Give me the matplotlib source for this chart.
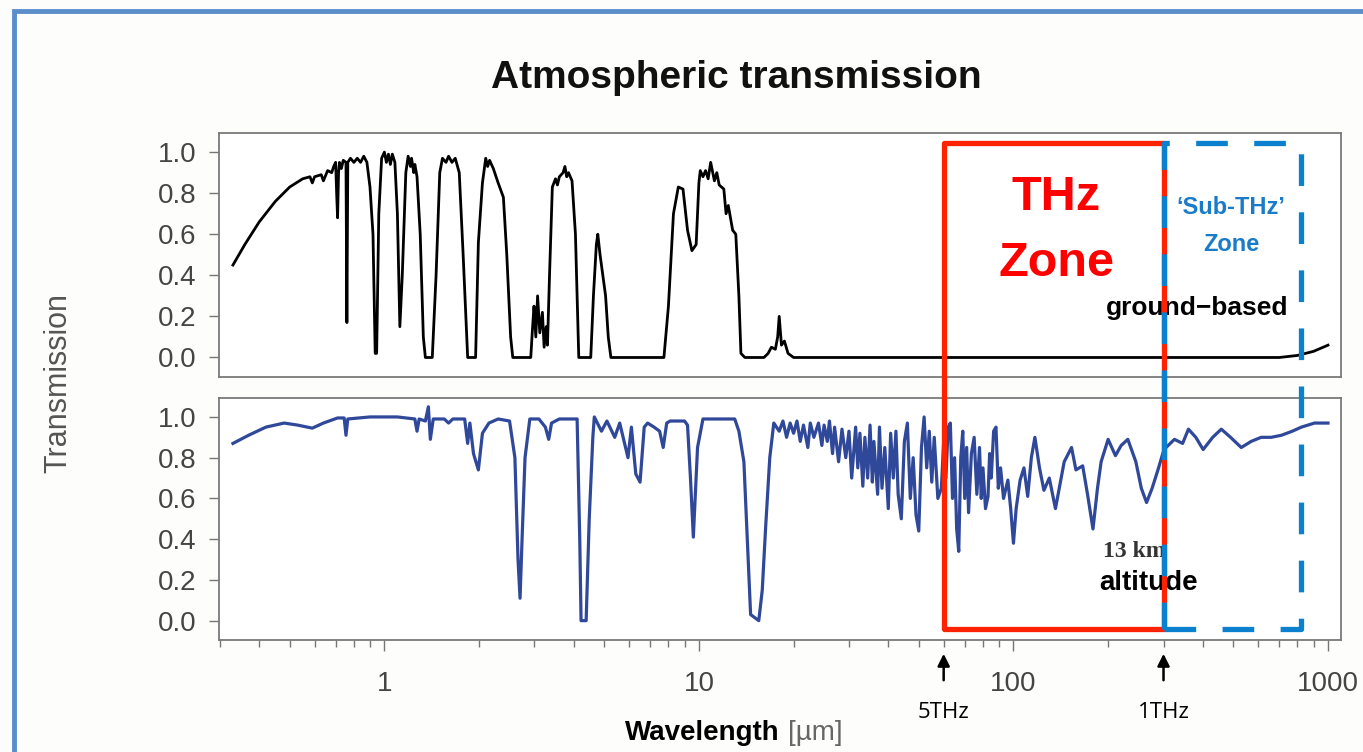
import matplotlib
matplotlib.use("Agg")
import matplotlib.pyplot as plt
from matplotlib.patches import Rectangle
from matplotlib.ticker import FixedLocator, LogLocator, NullFormatter
from matplotlib.transforms import blended_transform_factory

plt.rcParams['font.family'] = ['Liberation Sans', 'DejaVu Sans']

# --- ground-based transmission, (wavelength um, transmission) ---
ground_pts = [
    (0.33, 0.45), (0.36, 0.55), (0.40, 0.66), (0.45, 0.76), (0.50, 0.83), (0.55, 0.87),
    (0.58, 0.88), (0.59, 0.85), (0.60, 0.88), (0.63, 0.89), (0.64, 0.86), (0.66, 0.91),
    (0.68, 0.90), (0.69, 0.93), (0.70, 0.95), (0.705, 0.80), (0.71, 0.68), (0.715, 0.90),
    (0.72, 0.95), (0.73, 0.92), (0.74, 0.96), (0.755, 0.95), (0.76, 0.17), (0.765, 0.95),
    (0.78, 0.97), (0.80, 0.95), (0.82, 0.97), (0.84, 0.95), (0.86, 0.98), (0.88, 0.95),
    (0.90, 0.83), (0.92, 0.60), (0.935, 0.02), (0.945, 0.02), (0.96, 0.70), (0.98, 0.97),
    (1.00, 1.00), (1.015, 0.95), (1.03, 0.99), (1.045, 0.94), (1.06, 0.99), (1.08, 0.95),
    (1.10, 0.70), (1.12, 0.15), (1.14, 0.40), (1.17, 0.90), (1.19, 0.98), (1.21, 0.93),
    (1.22, 0.97), (1.24, 0.90), (1.25, 0.94), (1.27, 0.88), (1.30, 0.60), (1.33, 0.10),
    (1.35, 0.0), (1.42, 0.0), (1.46, 0.40), (1.50, 0.90), (1.53, 0.97), (1.57, 0.95),
    (1.60, 0.98), (1.64, 0.95), (1.68, 0.97), (1.73, 0.90), (1.78, 0.50), (1.84, 0.0),
    (1.95, 0.0), (1.99, 0.56), (2.05, 0.85), (2.10, 0.97), (2.13, 0.93), (2.16, 0.96),
    (2.22, 0.92), (2.30, 0.85), (2.39, 0.78), (2.45, 0.50), (2.52, 0.10), (2.56, 0.0),
    (2.92, 0.0), (2.96, 0.15), (2.99, 0.25), (3.03, 0.10), (3.07, 0.30), (3.12, 0.12),
    (3.18, 0.22), (3.22, 0.05), (3.27, 0.15), (3.30, 0.06), (3.35, 0.40), (3.42, 0.83),
    (3.50, 0.87), (3.55, 0.84), (3.60, 0.88), (3.70, 0.90), (3.75, 0.93), (3.80, 0.88),
    (3.85, 0.90), (3.95, 0.86), (4.05, 0.60), (4.15, 0.0), (4.53, 0.0), (4.62, 0.30),
    (4.72, 0.55), (4.77, 0.60), (4.85, 0.50), (4.95, 0.40), (5.05, 0.30), (5.15, 0.10),
    (5.25, 0.0), (7.74, 0.0), (8.0, 0.25), (8.3, 0.70), (8.6, 0.83), (8.9, 0.82),
    (9.2, 0.62), (9.5, 0.52), (9.8, 0.55), (10.0, 0.85), (10.1, 0.91), (10.3, 0.88),
    (10.5, 0.91), (10.7, 0.87), (10.9, 0.95), (11.2, 0.86), (11.4, 0.90), (11.6, 0.84),
    (12.0, 0.82), (12.2, 0.70), (12.4, 0.74), (12.8, 0.62), (13.1, 0.60), (13.4, 0.30),
    (13.6, 0.02), (14.0, 0.0), (16.1, 0.0), (16.6, 0.02), (17.0, 0.05), (17.5, 0.04),
    (17.8, 0.10), (18.0, 0.20), (18.3, 0.06), (18.7, 0.08), (19.2, 0.02), (20.0, 0.0),
    (700, 0.0), (800, 0.01), (900, 0.03), (1000, 0.06)]

# --- 13 km altitude transmission ---
altitude_pts = [
    (0.33, 0.87), (0.37, 0.91), (0.42, 0.95), (0.48, 0.97), (0.53, 0.96), (0.59, 0.945),
    (0.64, 0.97), (0.71, 0.995), (0.745, 0.995), (0.755, 0.91), (0.765, 0.99), (0.9, 1.0),
    (1.1, 1.0), (1.25, 0.99), (1.27, 0.93), (1.29, 0.99), (1.35, 0.98), (1.38, 1.05),
    (1.40, 0.89), (1.43, 0.99), (1.55, 0.99), (1.6, 0.97), (1.65, 0.99), (1.8, 0.99),
    (1.84, 0.87), (1.87, 0.97), (1.92, 0.82), (1.99, 0.74), (2.05, 0.92), (2.15, 0.97),
    (2.3, 0.99), (2.5, 0.98), (2.6, 0.80), (2.66, 0.30), (2.7, 0.11), (2.74, 0.40),
    (2.8, 0.80), (2.9, 0.99), (3.1, 0.99), (3.25, 0.95), (3.33, 0.89), (3.4, 0.97),
    (3.6, 0.99), (4.1, 0.99), (4.18, 0.4), (4.22, 0.0), (4.38, 0.0), (4.48, 0.5),
    (4.6, 0.9), (4.65, 1.0), (4.9, 0.93), (5.1, 0.98), (5.4, 0.90), (5.6, 0.97),
    (5.95, 0.80), (6.1, 0.95), (6.3, 0.72), (6.5, 0.68), (6.7, 0.95), (6.87, 0.97),
    (7.2, 0.95), (7.5, 0.93), (7.7, 0.85), (7.9, 0.97), (8.1, 0.98), (9.0, 0.98),
    (9.2, 0.96), (9.4, 0.70), (9.6, 0.41), (9.9, 0.85), (10.3, 0.99), (13.0, 0.99),
    (13.4, 0.93), (13.9, 0.78), (14.3, 0.35), (14.6, 0.03), (15.5, 0.0), (15.9, 0.15),
    (16.3, 0.46), (16.8, 0.80), (17.3, 0.97), (18.0, 0.93), (18.5, 0.98), (19.0, 0.90),
    (19.5, 0.97), (20.0, 0.92), (20.5, 0.98), (21.0, 0.88), (21.5, 0.96), (22.2, 0.85),
    (22.6, 0.97), (23.2, 0.90), (24.0, 0.97), (24.6, 0.86), (25.0, 0.96), (25.6, 0.88),
    (26.0, 0.98), (26.6, 0.82), (27.0, 0.95), (27.8, 0.78), (28.5, 0.94), (29.3, 0.80),
    (30.0, 0.93), (30.6, 0.70), (31.5, 0.95), (32.0, 0.75), (32.5, 0.92), (33.2, 0.66),
    (33.7, 0.90), (34.4, 0.70), (35.0, 0.96), (35.6, 0.68), (36.0, 0.88), (37.0, 0.62),
    (37.5, 0.95), (38.2, 0.65), (39.0, 0.85), (40.0, 0.55), (40.7, 0.92), (41.5, 0.70),
    (42.3, 0.93), (43.0, 0.62), (44.0, 0.50), (45.0, 0.88), (46.0, 0.97), (47.0, 0.60),
    (48.0, 0.80), (49.0, 0.52), (50.0, 0.44), (51.0, 0.85), (52.0, 1.0), (53.0, 0.75),
    (54.0, 0.93), (55.0, 0.68), (56.0, 0.90), (57.5, 0.60), (59.0, 0.65), (60.0, 0.88),
    (61.0, 0.70), (62.0, 0.95), (63.0, 0.97), (64.0, 0.60), (65.0, 0.80), (66.0, 0.45),
    (67.0, 0.34), (68.0, 0.80), (69.0, 0.93), (70.0, 0.60), (71.0, 0.85), (72.0, 0.53),
    (73.5, 0.82), (75.0, 0.90), (76.5, 0.62), (78.0, 0.85), (79.0, 0.60), (80.0, 0.75),
    (81.5, 0.55), (83.0, 0.61), (84.0, 0.82), (85.0, 0.70), (86.5, 0.93), (88.0, 0.95),
    (89.5, 0.65), (91.0, 0.75), (93.0, 0.60), (96.0, 0.69), (98.0, 0.55), (100, 0.38),
    (102, 0.55), (105, 0.69), (108, 0.75), (111, 0.61), (114, 0.80), (117, 0.90),
    (121, 0.75), (125, 0.64), (130, 0.70), (136, 0.55), (141, 0.68), (145, 0.78),
    (153, 0.85), (158, 0.74), (166, 0.76), (172, 0.62), (179, 0.45), (185, 0.65),
    (190, 0.78), (200, 0.89), (211, 0.81), (220, 0.86), (231, 0.89), (245, 0.78),
    (255, 0.65), (265, 0.58), (276, 0.65), (288, 0.74), (301, 0.84), (325, 0.89),
    (345, 0.87), (360, 0.94), (380, 0.90), (401, 0.84), (430, 0.90), (458, 0.94),
    (490, 0.90), (530, 0.85), (570, 0.88), (613, 0.90), (660, 0.90), (711, 0.91),
    (770, 0.93), (823, 0.95), (906, 0.97), (1000, 0.97)]

# zone limits in micrometres (5 THz, 1 THz, end of sub-THz box)
thz_lo, thz_hi, sub_hi = 60, 300, 820
x_ticks = [1, 10, 100, 1000]
y_ticks = [0.0, 0.2, 0.4, 0.6, 0.8, 1.0]

ground_wl, ground_tr = zip(*ground_pts)
alt_wl, alt_tr = zip(*altitude_pts)

W, H = 1363, 752
fig = plt.figure(figsize=(W / 100, H / 100), dpi=100)
fig.patch.set_facecolor('#fdfdfc')

def fy(py):  # pixel row -> figure fraction
    return 1 - py / H

ax_top = fig.add_axes([219 / W, fy(377), (1341 - 219) / W, (377 - 133) / H])
ax_bot = fig.add_axes([219 / W, fy(640), (1341 - 219) / W, (640 - 398) / H])

ax_top.plot(ground_wl, ground_tr, color='black', lw=2.0, solid_joinstyle='round')
ax_bot.plot(alt_wl, alt_tr, color='#30489a', lw=2.3, solid_joinstyle='round')

for ax in (ax_top, ax_bot):
    ax.set_xscale('log')
    ax.set_xlim(0.298, 1100)
    ax.set_ylim(-0.095, 1.093)
    ax.set_facecolor('white')
    for s in ax.spines.values():
        s.set_color('#7a7a7a')
        s.set_linewidth(1.3)
    ax.yaxis.set_major_locator(FixedLocator(y_ticks))
    ax.set_yticklabels([f"{v:.1f}" for v in y_ticks])
    ax.tick_params(axis='y', direction='out', length=7, width=1, color='#777777',
                   labelsize=20, labelcolor='#454545', pad=9)

ax_top.tick_params(axis='x', which='both', bottom=False, labelbottom=False)
ax_bot.xaxis.set_major_locator(FixedLocator(x_ticks))
ax_bot.set_xticklabels([str(v) for v in x_ticks])
ax_bot.xaxis.set_minor_locator(LogLocator(base=10, subs=range(2, 10)))
ax_bot.xaxis.set_minor_formatter(NullFormatter())
ax_bot.tick_params(axis='x', which='major', direction='out', length=8, width=1,
                   color='#777777', labelsize=20, labelcolor='#454545', pad=14)
ax_bot.tick_params(axis='x', which='minor', direction='out', length=5, width=1, color='#777777')

# panel labels (under the zone boxes)
ax_top.text(385, 0.24, "ground\u2212based", ha='center', va='center', fontsize=19,
            fontweight='bold', color='black')
ax_bot.text(192, 0.34, "13 km", ha='left', va='center', fontsize=17, fontweight='bold',
            family='Liberation Serif', color='#333333')
ax_bot.text(269, 0.185, "altitude", ha='center', va='center', fontsize=20,
            fontweight='bold', color='black')

# zone boxes span both panels: x in data, y in figure fraction
tr = blended_transform_factory(ax_bot.transData, fig.transFigure)
box_y0, box_y1 = fy(629), fy(143)
fig.add_artist(Rectangle((thz_lo, box_y0), thz_hi - thz_lo, box_y1 - box_y0, transform=tr,
                         fill=False, edgecolor='#ff2200', lw=3.8, joinstyle='round', zorder=3))
fig.add_artist(Rectangle((thz_hi, box_y0), sub_hi - thz_hi, box_y1 - box_y0, transform=tr,
                         fill=False, edgecolor='#0a80cf', lw=3.8, linestyle=(0, (6, 5)),
                         joinstyle='round', zorder=4))

fig.text(1056 / W, fy(198), "THz", ha='center', va='center', fontsize=35,
         fontweight='bold', color='#ff0000')
fig.text(1056 / W, fy(263), "Zone", ha='center', va='center', fontsize=35,
         fontweight='bold', color='#ff0000')
fig.text(1231 / W, fy(208), "\u2018Sub-THz\u2019", ha='center', va='center', fontsize=17,
         fontweight='bold', color='#1a7cc8')
fig.text(1231 / W, fy(244), "Zone", ha='center', va='center', fontsize=17,
         fontweight='bold', color='#1a7cc8')

# frequency markers under the axis
for wl, lab in ((thz_lo, "5THz"), (thz_hi, "1THz")):
    ax_bot.annotate("", xy=(wl, fy(651)), xytext=(wl, fy(683)),
                    xycoords=('data', 'figure fraction'), textcoords=('data', 'figure fraction'),
                    arrowprops=dict(arrowstyle='-|>', color='black', lw=1.8, mutation_scale=18),
                    annotation_clip=False)
    ax_bot.annotate(lab, xy=(wl, fy(712)), xycoords=('data', 'figure fraction'),
                    ha='center', va='center', fontsize=16, family='Open Sans',
                    annotation_clip=False)

fig.text(736 / W, fy(78), "Atmospheric transmission", ha='center', va='center',
         fontsize=28, fontweight='bold', color='#111111')
fig.text(58 / W, fy(383), "Transmission", rotation=90, ha='center', va='center',
         fontsize=22, color='#555555')
fig.text(780 / W, fy(733), "Wavelength", ha='right', va='center', fontsize=20,
         fontweight='bold', color='black')
fig.text(788 / W, fy(733), "[\u00b5m]", ha='left', va='center', fontsize=20, color='#666666')

# light blue frame of the original slide
fig.add_artist(Rectangle((14 / W, -0.1), 1.2, fy(11) + 0.1, transform=fig.transFigure,
                         fill=False, edgecolor='#5b8fca', lw=3.5, zorder=5))

fig.savefig("out.png", dpi=100, facecolor=fig.get_facecolor())
